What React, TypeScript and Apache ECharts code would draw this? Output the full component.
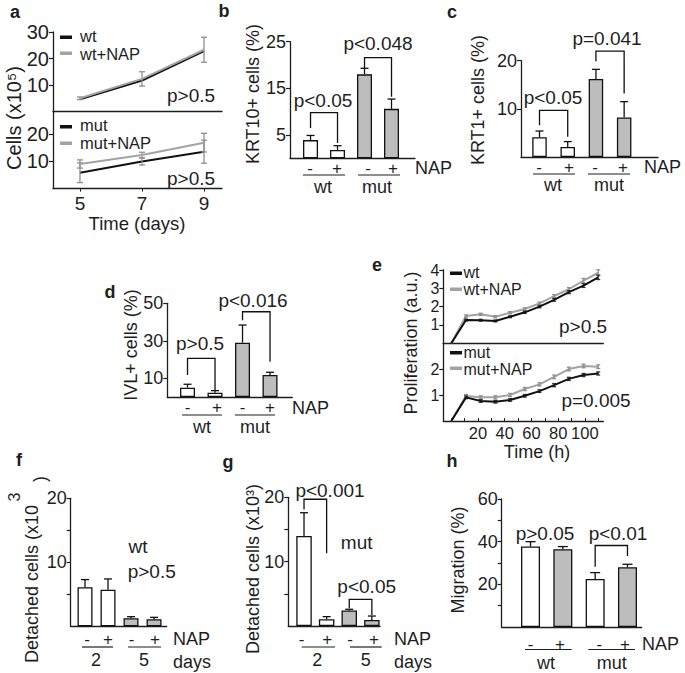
import { useEffect, useRef } from 'react';
import * as echarts from 'echarts';

const FONT = "'Liberation Sans', Arial, Helvetica, sans-serif";
const FS = 18;
const FP = 19;
const INK = '#1e1e1e';
const BLACK = '#111111';
const GRAY = '#a3a3a3';
const ERR_GRAY = '#8f8f8f';
const BAR_GRAY = '#bdbdbd';
const WHITE = '#ffffff';

// ---------- panel a : cells over time ----------
const aDays = [5, 7, 9];
const aDayTicks = [5, 7, 9];
const aTopTicks = [10, 20, 30];
const aBotTicks = [10, 20];
const aWt = [4.6, 11.7, 22.8];
const aWtNap = [5.0, 12.3, 23.3];
const aWtNapErr = [0.5, 2.7, 4.7];
const aMut = [5.8, 9.9, 13.5];
const aMutErr = [3.6, 1.3, 4.2];
const aMutNap = [9.0, 12.3, 16.8];
const aMutNapErr = [1.5, 1.0, 3.4];

// ---------- bar panels ----------
const barX = [1, 2, 3, 4];
const napSigns = ['-', '+', '-', '+'];

const bTicks = [5, 15, 25];
const bVals = [3.9, 1.8, 18.0, 10.6];
const bErr = [1.0, 0.9, 1.3, 2.1];
const bBrackets = [[1, 2, 9.8, 6.5, 3.3], [3, 4, 21.6, 19.3, 13.2]];

const cTicks = [10, 20];
const cVals = [4.1, 2.1, 16.2, 8.2];
const cErr = [1.3, 1.1, 2.0, 3.3];
const cBrackets = [[1, 2, 9.7, 6.6, 4.2], [3, 4, 22.0, 19.9, 13.2]];

const dTicks = [10, 30, 50];
const dVals = [5.0, 2.3, 29.0, 11.7];
const dErr = [1.8, 1.1, 9.4, 1.5];
const dBrackets = [[1, 2, 20.6, 11.7, 3.7], [3, 4, 45.5, 41.0, 18.8]];

const fTicks = [5, 10, 15, 20];
const fLabels = [10, 20];
const fVals = [6.1, 5.7, 1.25, 1.1];
const fErr = [1.2, 1.7, 0.25, 0.3];

const gVals = [14.0, 1.05, 2.4, 0.95];
const gErr = [3.6, 0.4, 0.2, 0.6];
const gBrackets = [[1, 2, 19.7, 18.1, 11.3], [3, 4, 4.15, 2.75, 1.7]];

const hTicks = [10, 20, 30, 40, 50, 60];
const hLabels = [20, 40, 60];
const hVals = [37.7, 36.5, 22.5, 28.0];
const hErr = [2.3, 1.2, 3.0, 1.4];
const hBrackets = [[3, 4, 38.2, 28.3, 33.3]];

const colsWWGG = [WHITE, WHITE, BAR_GRAY, BAR_GRAY];
const colsWGWG = [WHITE, BAR_GRAY, WHITE, BAR_GRAY];

// ---------- panel e : proliferation ----------
const eHours = [0, 11, 22, 33, 44, 55, 66, 77, 88, 99, 110];
const eHourLabels = [20, 40, 60, 80, 100];
const eHourTicks = [0, 10, 20, 30, 40, 50, 60, 70, 80, 90, 100, 110];
const eTopTicks = [1, 2, 3, 4];
const eBotTicks = [1, 2];
const eWt = [0, 1.27, 1.26, 1.22, 1.45, 1.69, 2.0, 2.37, 2.79, 3.15, 3.6];
const eWtNap = [0, 1.49, 1.58, 1.45, 1.67, 1.87, 2.18, 2.58, 2.95, 3.42, 3.85];
const eWtErr = [0, 0.05, 0.05, 0.05, 0.05, 0.06, 0.06, 0.07, 0.08, 0.1, 0.12];
const eWtNapErr = [0, 0.06, 0.06, 0.06, 0.06, 0.07, 0.07, 0.08, 0.09, 0.12, 0.16];
const eMut = [0, 0.91, 0.77, 0.74, 0.81, 0.97, 1.15, 1.38, 1.62, 1.77, 1.83];
const eMutNap = [0, 0.96, 0.91, 0.91, 1.0, 1.23, 1.41, 1.7, 2.0, 2.12, 2.09];
const eMutErr = [0, 0.05, 0.05, 0.05, 0.05, 0.05, 0.05, 0.06, 0.06, 0.06, 0.06];
const eMutNapErr = [0, 0.06, 0.06, 0.06, 0.06, 0.06, 0.06, 0.07, 0.07, 0.07, 0.07];

// ---------- helpers ----------
const grids = [
  { left: 53, top: 32, width: 169, height: 79.5 }, // 0 a top
  { left: 53, top: 111.5, width: 169, height: 77.1 }, // 1 a bottom
  { left: 290, top: 41.7, width: 125, height: 116.6 }, // 2 b
  { left: 521, top: 60.7, width: 137, height: 96.3 }, // 3 c
  { left: 167.3, top: 303.3, width: 125, height: 93.7 }, // 4 d
  { left: 443.3, top: 270, width: 160, height: 73.3 }, // 5 e top
  { left: 443.3, top: 343.3, width: 160, height: 77.7 }, // 6 e bottom
  { left: 70.7, top: 498.3, width: 96, height: 128 }, // 7 f
  { left: 288.3, top: 497.3, width: 91.7, height: 128.7 }, // 8 g
  { left: 501.7, top: 499, width: 140, height: 128 }, // 9 h
].map((g) => ({ ...g, containLabel: false, outerBoundsMode: 'none' }));

function yAx(gi: number, min: number, max: number, ticks: number[], labels: number[], fs = FS) {
  return {
    type: 'value', gridIndex: gi, min, max,
    axisLine: { show: true, onZero: false, lineStyle: { color: INK, width: 1.3 } },
    axisTick: { show: true, length: 4, customValues: ticks, lineStyle: { color: INK, width: 1.2 } },
    axisLabel: { show: labels.length > 0, customValues: labels, margin: 4, fontSize: fs, fontFamily: FONT, color: INK },
    splitLine: { show: false },
  };
}
function xAx(gi: number, min: number, max: number, extra: any = {}) {
  return {
    type: 'value', gridIndex: gi, min, max,
    axisLine: { show: true, onZero: false, lineStyle: { color: INK, width: 1.3 } },
    axisTick: { show: false }, axisLabel: { show: false }, splitLine: { show: false },
    ...extra,
  };
}
function barSeries(gi: number, vals: number[], colors: string[], width: number) {
  return {
    type: 'bar', xAxisIndex: gi, yAxisIndex: gi, barWidth: width, silent: true, z: 2,
    itemStyle: { borderColor: BLACK, borderWidth: 1.3 },
    data: vals.map((v, i) => ({ value: [barX[i], v], itemStyle: { color: colors[i], borderColor: BLACK, borderWidth: 1.3 } })),
  };
}
function errSeries(gi: number, xs: number[], vals: number[], errs: number[], color: string, twoSided: boolean, cap: number) {
  return {
    type: 'custom', xAxisIndex: gi, yAxisIndex: gi, silent: true, z: 4, clip: false,
    data: xs.map((x, i) => [x, twoSided ? vals[i] - errs[i] : vals[i], vals[i] + errs[i]]).filter((_d, i) => errs[i] > 0),
    renderItem: (_p: any, api: any) => {
      const x = api.value(0);
      const p1 = api.coord([x, api.value(1)]);
      const p2 = api.coord([x, api.value(2)]);
      const style = { stroke: color, lineWidth: 1.3, fill: null };
      const children: any[] = [
        { type: 'line', shape: { x1: p1[0], y1: p1[1], x2: p2[0], y2: p2[1] }, style },
        { type: 'line', shape: { x1: p2[0] - cap, y1: p2[1], x2: p2[0] + cap, y2: p2[1] }, style },
      ];
      if (twoSided) children.push({ type: 'line', shape: { x1: p1[0] - cap, y1: p1[1], x2: p1[0] + cap, y2: p1[1] }, style });
      return { type: 'group', children };
    },
  };
}
function bracketSeries(gi: number, data: number[][]) {
  return {
    type: 'custom', xAxisIndex: gi, yAxisIndex: gi, silent: true, z: 5, clip: false,
    data,
    renderItem: (_p: any, api: any) => {
      const x1 = api.value(0), x2 = api.value(1);
      const pts = [
        api.coord([x1, api.value(3)]), api.coord([x1, api.value(2)]),
        api.coord([x2, api.value(2)]), api.coord([x2, api.value(4)]),
      ];
      return { type: 'polyline', shape: { points: pts }, style: { stroke: BLACK, lineWidth: 1.3, fill: null } };
    },
  };
}
function lineSeries(gi: number, xs: number[], vals: number[], color: string, z = 3) {
  return {
    type: 'line', xAxisIndex: gi, yAxisIndex: gi, silent: true, z, symbol: 'none',
    lineStyle: { color, width: 2 }, itemStyle: { color },
    data: xs.map((x, i) => [x, vals[i]]),
  };
}

const T = (x: number, y: number, text: string, o: any = {}) => ({
  type: 'text', x, y, rotation: o.rot || 0, silent: true, z: 10,
  style: {
    text, fontSize: o.fs || FS, fontFamily: FONT, fontWeight: o.bold ? 'bold' : 'normal',
    fill: o.fill || INK, align: o.align || 'center', verticalAlign: 'middle',
  },
});
const L = (x1: number, y1: number, x2: number, y2: number) => ({
  type: 'line', silent: true, z: 10, shape: { x1, y1, x2, y2 }, style: { stroke: INK, lineWidth: 1.2 },
});
const R = (x: number, y: number, w: number, h: number, fill: string) => ({
  type: 'rect', silent: true, z: 10, shape: { x, y, width: w, height: h }, style: { fill },
});

function signRow(xs: number[], y: number) {
  return xs.map((x, i) => T(x, y, napSigns[i], { fs: 17 }));
}

const ROT = Math.PI / 2;
const LEG_A = 16.5;
const LEG_E = 16;

const graphics: any[] = [
  // panel letters
  T(15, 12, 'a', { bold: true }), T(224, 11, 'b', { bold: true }), T(452, 12, 'c', { bold: true }),
  T(110, 292, 'd', { bold: true }), T(377, 265, 'e', { bold: true }), T(19, 460, 'f', { bold: true }),
  T(228, 462, 'g', { bold: true }), T(452, 461, 'h', { bold: true }),

  // a
  T(14, 118, 'Cells (x10⁵)', { rot: ROT, fs: 20 }),
  R(60, 35.5, 12, 3.5, BLACK), T(80, 36, 'wt', { align: 'left', fs: LEG_A }),
  R(60, 51.5, 12, 3.5, GRAY), T(80, 53.5, 'wt+NAP', { align: 'left', fs: LEG_A }),
  T(191, 95, 'p>0.5', { fs: FP }),
  R(60, 125, 12, 3.5, BLACK), T(80, 125, 'mut', { align: 'left', fs: LEG_A }),
  R(60, 141.5, 12, 3.5, GRAY), T(80, 143, 'mut+NAP', { align: 'left', fs: LEG_A }),
  T(191, 178, 'p>0.5', { fs: FP }),
  T(137, 223, 'Time (days)', { fs: 18.5 }),

  // b
  T(253, 94, 'KRT10+ cells (%)', { rot: ROT }),
  T(323, 100, 'p<0.05', { fs: FP }), T(378, 43, 'p<0.048', { fs: FP }),
  ...signRow([310, 337, 368, 393], 168),
  L(303, 175, 345, 175), L(358, 175, 400, 175),
  T(323, 187, 'wt'), T(377, 187, 'mut'), T(415, 168, 'NAP', { align: 'left' }),

  // c
  T(478, 100, 'KRT1+ cells (%)', { rot: ROT }),
  T(553, 97, 'p<0.05', { fs: FP }), T(607, 38, 'p=0.041', { fs: FP }),
  ...signRow([539, 569, 595, 623], 167),
  L(533, 174, 575, 174), L(588, 174, 630, 174),
  T(553, 185, 'wt'), T(609, 185, 'mut'), T(644, 167, 'NAP', { align: 'left' }),

  // d
  T(131, 345, 'IVL+ cells (%)', { rot: ROT }),
  T(200, 343, 'p>0.5', { fs: FP }), T(253, 300, 'p<0.016', { fs: FP }),
  ...signRow([187.5, 217, 242.5, 270], 407.5),
  L(182, 415, 222, 415), L(235, 415, 275, 415),
  T(202, 427, 'wt'), T(255, 427, 'mut'), T(292, 408, 'NAP', { align: 'left' }),

  // e
  T(411, 343, 'Proliferation (a.u.)', { rot: ROT }),
  R(450, 271.5, 12, 3.5, BLACK), T(463.5, 272, 'wt', { align: 'left', fs: LEG_E }),
  R(450, 287.5, 12, 3.5, GRAY), T(463.5, 289, 'wt+NAP', { align: 'left', fs: LEG_E }),
  T(583, 326.7, 'p>0.5', { fs: FP }),
  R(450, 351, 12, 3.5, BLACK), T(463.5, 352, 'mut', { align: 'left', fs: LEG_E }),
  R(450, 366.5, 12, 3.5, GRAY), T(463.5, 369, 'mut+NAP', { align: 'left', fs: LEG_E }),
  T(596, 400, 'p=0.005', { fs: FP }),
  T(537, 451.7, 'Time (h)'),

  // f
  T(31.7, 584, 'Detached cells (x10', { rot: ROT }),
  T(14, 497, '3', { rot: ROT, fs: 16 }), T(40, 479, ')', { rot: ROT }),
  T(138, 546.7, 'wt', { fs: FP }), T(151.7, 571.7, 'p>0.5', { fs: FP }),
  ...signRow([87, 108, 131.7, 155], 639),
  L(82, 647, 113, 647), L(128, 647, 161, 647),
  T(96, 660, '2'), T(144, 660, '5'),
  T(173, 639, 'NAP', { align: 'left' }), T(173, 662, 'days', { align: 'left' }),

  // g
  T(253, 569, 'Detached cells (x10³)', { rot: ROT }),
  T(330, 490, 'p<0.001', { fs: FP }), T(366.7, 586.7, 'p<0.05', { fs: FP }),
  T(356.7, 542.7, 'mut', { fs: FP }),
  ...signRow([301.7, 327.3, 350, 374], 639),
  L(301.7, 647, 335, 647), L(350, 647, 381.7, 647),
  T(317.3, 660, '2'), T(365.7, 660, '5'),
  T(394, 639, 'NAP', { align: 'left' }), T(394, 662, 'days', { align: 'left' }),

  // h
  T(458, 560, 'Migration (%)', { rot: ROT }),
  T(545, 533.3, 'p>0.05', { fs: FP }), T(618, 533.3, 'p<0.01', { fs: FP }),
  ...signRow([530.7, 560, 599.3, 625], 644),
  L(525, 649.5, 571.7, 649.5), L(588.3, 649.5, 635, 649.5),
  T(546, 663, 'wt'), T(611.7, 663, 'mut'), T(642, 644, 'NAP', { align: 'left' }),
];

const option: any = {
  animation: false,
  backgroundColor: '#ffffff',
  textStyle: { fontFamily: FONT },
  grid: grids,
  xAxis: [
    xAx(0, 4.13, 9.58),
    xAx(1, 4.13, 9.58, {
      axisTick: { show: true, length: 3, customValues: aDayTicks, lineStyle: { color: INK } },
      axisLabel: { show: true, customValues: aDayTicks, margin: 5, fontSize: FP, fontFamily: FONT, color: INK },
    }),
    xAx(2, 0.24, 4.87),
    xAx(3, 0.344, 5.2),
    xAx(4, 0.265, 4.81),
    xAx(5, -6, 113.8),
    xAx(6, -6, 113.8, {
      axisTick: { show: true, inside: true, length: 3, customValues: eHourTicks, lineStyle: { color: INK } },
      axisLabel: { show: true, customValues: eHourLabels, margin: 3, fontSize: 16.5, fontFamily: FONT, color: INK },
    }),
    xAx(7, 0.378, 4.55),
    xAx(8, 0.305, 4.36),
    xAx(9, 0.108, 4.44),
  ],
  yAxis: [
    yAx(0, 0, 30, aTopTicks, aTopTicks, 20),
    yAx(1, 0, 28.2, aBotTicks, aBotTicks, 20),
    yAx(2, 0, 25, bTicks, bTicks),
    yAx(3, 0, 20, cTicks, cTicks),
    yAx(4, 0, 50, dTicks, dTicks),
    yAx(5, 0, 4, eTopTicks, eTopTicks, 16),
    yAx(6, 0, 2.99, eBotTicks, eBotTicks, 16),
    yAx(7, 0, 20, fTicks, fLabels),
    yAx(8, 0, 20, fTicks, fLabels),
    yAx(9, 0, 60, hTicks, hLabels),
  ],
  series: [
    // a
    lineSeries(0, aDays, aWt, BLACK, 3),
    lineSeries(0, aDays, aWtNap, GRAY, 4),
    errSeries(0, aDays, aWtNap, aWtNapErr, ERR_GRAY, true, 3),
    lineSeries(1, aDays, aMut, BLACK, 3),
    lineSeries(1, aDays, aMutNap, GRAY, 4),
    errSeries(1, aDays, aMut, aMutErr, ERR_GRAY, true, 3),
    errSeries(1, aDays, aMutNap, aMutNapErr, ERR_GRAY, true, 3),
    // b
    barSeries(2, bVals, colsWWGG, 15),
    errSeries(2, barX, bVals, bErr, BLACK, false, 4),
    bracketSeries(2, bBrackets),
    // c
    barSeries(3, cVals, colsWWGG, 14.5),
    errSeries(3, barX, cVals, cErr, BLACK, false, 4),
    bracketSeries(3, cBrackets),
    // d
    barSeries(4, dVals, colsWWGG, 15),
    errSeries(4, barX, dVals, dErr, BLACK, false, 4),
    bracketSeries(4, dBrackets),
    // e
    lineSeries(5, eHours, eWtNap, GRAY, 3),
    errSeries(5, eHours, eWtNap, eWtNapErr, ERR_GRAY, true, 2),
    lineSeries(5, eHours, eWt, BLACK, 4),
    errSeries(5, eHours, eWt, eWtErr, '#333', true, 2),
    lineSeries(6, eHours, eMutNap, GRAY, 3),
    errSeries(6, eHours, eMutNap, eMutNapErr, ERR_GRAY, true, 2),
    lineSeries(6, eHours, eMut, BLACK, 4),
    errSeries(6, eHours, eMut, eMutErr, '#333', true, 2),
    // f
    barSeries(7, fVals, colsWWGG, 15),
    errSeries(7, barX, fVals, fErr, BLACK, false, 4),
    // g
    barSeries(8, gVals, colsWWGG, 15.5),
    errSeries(8, barX, gVals, gErr, BLACK, false, 4),
    bracketSeries(8, gBrackets),
    // h
    barSeries(9, hVals, colsWGWG, 19),
    errSeries(9, barX, hVals, hErr, BLACK, false, 5),
    bracketSeries(9, hBrackets),
  ],
  graphic: graphics,
};

export default function App() {
  const ref = useRef<HTMLDivElement>(null);
  useEffect(() => {
    if (!ref.current) return;
    const chart = echarts.init(ref.current, null, { renderer: 'svg' });
    chart.setOption(option);
    return () => chart.dispose();
  }, []);
  return (
    <div
      ref={ref}
      style={{ position: 'absolute', left: 0, top: 0, width: 685, height: 673, background: '#fff' }}
    />
  );
}
